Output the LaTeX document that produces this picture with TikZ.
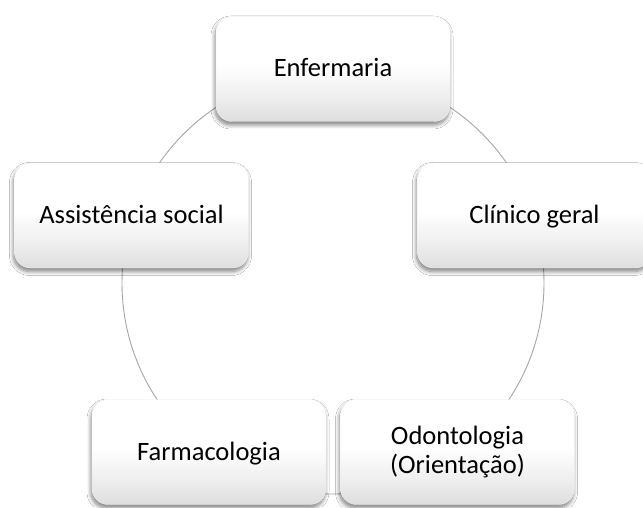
\documentclass[tikz,border=0pt]{standalone}
\usepackage{fontspec}
\setmainfont{Carlito}
\usetikzlibrary{shadows.blur}
\definecolor{ringgray}{HTML}{A6A6A6}
\pgfdeclareverticalshading{boxshade}{100bp}{%
  color(0bp)=(black!13); color(25bp)=(black!13); color(38bp)=(black!6);
  color(52bp)=(white); color(100bp)=(white)}
\tikzset{
  cyclebox/.style={rounded corners=16pt, minimum width=234pt, minimum height=105pt,
    shading=boxshade, draw=black!6, line width=0.4pt,
    blur shadow={shadow xshift=-1pt, shadow yshift=-3.5pt, shadow blur steps=8, shadow opacity=50, shadow blur radius=4pt},
    align=center, font=\fontsize{26.5pt}{29pt}\selectfont, text=black, inner sep=0pt},
  oneline/.style={text height=20pt, text depth=4pt},
  ringline/.style={draw=ringgray, line width=0.9pt}
}
\begin{document}
\begin{tikzpicture}[x=1pt,y=1pt]
\useasboundingbox (0,0) rectangle (643,507);
\clip (0,0) rectangle (643,507);
\fill[white] (0,0) rectangle (643,507);
\node[circle, ringline, minimum size=422pt, inner sep=0pt] (ring) at (333,224) {};
\node[cyclebox, oneline] (enf) at (333,438) {Enfermaria};
\node[cyclebox, oneline] (clin) at (534.5,291.5) {Clínico geral};
\node[cyclebox, oneline] (assist) at (131.5,291.5) {Assistência social};
\node[cyclebox, oneline] (farm) at (209,55) {Farmacologia};
\node[cyclebox] (odont) at (457.5,55) {Odontologia\\(Orientação)};
\end{tikzpicture}
\end{document}
